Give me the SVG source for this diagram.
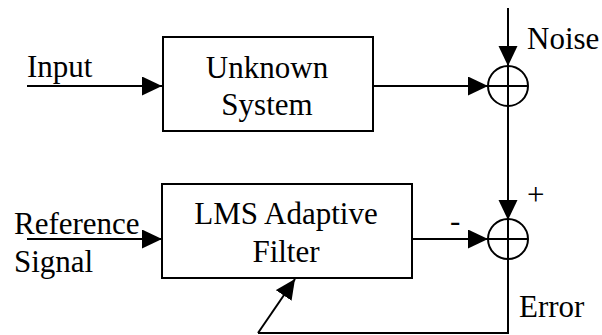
<svg xmlns="http://www.w3.org/2000/svg" width="602" height="335" viewBox="0 0 602 335">
  <style>
    .box { fill: #fff; stroke: #000; stroke-width: 2; }
    .sum { fill: none; stroke: #000; stroke-width: 2; }
    .wire { fill: none; stroke: #000; stroke-width: 2; }
    text { font-family: 'Liberation Serif', 'Times New Roman', Times, serif; font-size: 31px; fill: #000; }
    .mid { text-anchor: middle; }
  </style>
  <defs>
    <marker id="arrow" viewBox="0 0 20 20" refX="20" refY="9.5" markerWidth="20" markerHeight="20" markerUnits="userSpaceOnUse" orient="auto">
      <path d="M0,0 L20,9.5 L0,19 Z" fill="#000"/>
    </marker>
  </defs>
  <rect width="602" height="335" fill="#fff"/>

  <g id="connectors">
    <line class="wire" x1="27" y1="86" x2="162" y2="86" marker-end="url(#arrow)"/>
    <line class="wire" x1="373" y1="86" x2="488" y2="86" marker-end="url(#arrow)"/>
    <line class="wire" x1="508" y1="8" x2="508" y2="66" marker-end="url(#arrow)"/>
    <line class="wire" x1="508" y1="106" x2="508" y2="220" marker-end="url(#arrow)"/>
    <line class="wire" x1="27" y1="239" x2="162" y2="239" marker-end="url(#arrow)"/>
    <line class="wire" x1="412" y1="239" x2="488" y2="239" marker-end="url(#arrow)"/>
    <polyline class="wire" points="508,259 508,333 258,333"/>
    <line class="wire" x1="258" y1="333" x2="295" y2="279" marker-end="url(#arrow)"/>
  </g>

  <g id="unknown-system">
    <rect class="box" x="163" y="37" width="210" height="94"/>
    <text font-family="Liberation Serif, serif" class="mid" x="267" y="78">Unknown</text>
    <text font-family="Liberation Serif, serif" class="mid" x="267" y="115">System</text>
  </g>

  <g id="lms-filter">
    <rect class="box" x="162" y="184" width="250" height="94"/>
    <text font-family="Liberation Serif, serif" class="mid" x="286" y="224">LMS Adaptive</text>
    <text font-family="Liberation Serif, serif" class="mid" x="286" y="262">Filter</text>
  </g>

  <g id="sum-noise">
    <circle class="sum" cx="508" cy="86" r="20"/>
    <line class="wire" x1="488" y1="86" x2="528" y2="86"/>
    <line class="wire" x1="508" y1="66" x2="508" y2="106"/>
  </g>

  <g id="sum-error">
    <circle class="sum" cx="508" cy="239" r="20"/>
    <line class="wire" x1="488" y1="239" x2="528" y2="239"/>
    <line class="wire" x1="508" y1="219" x2="508" y2="259"/>
  </g>

  <g id="labels">
    <text x="27" y="77">Input</text>
    <text x="527" y="49">Noise</text>
    <text x="14" y="234">Reference</text>
    <text x="14" y="272">Signal</text>
    <text x="527" y="205">+</text>
    <text x="450" y="231">-</text>
    <text x="519" y="317">Error</text>
  </g>
</svg>
